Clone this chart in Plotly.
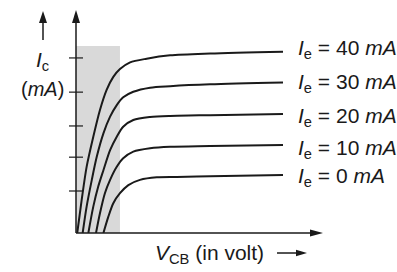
import plotly.graph_objects as go

# ---- data ----
ie_labels = ["40", "30", "20", "10", "0"]
v_40 = [0.05, 0.23, 0.43, 0.70, 0.97, 1.24, 1.51, 1.78, 2.19, 2.86, 3.81, 5.43, 8.38]
i_40 = [0.0, 8.9, 17.8, 25.9, 33.1, 38.5, 42.0, 44.1, 45.9, 46.9, 47.8, 48.3, 48.8]
v_30 = [0.27, 0.43, 0.64, 0.84, 1.11, 1.38, 1.65, 1.91, 2.32, 3.00, 3.81, 5.43, 8.38]
i_30 = [0.0, 7.1, 14.3, 20.5, 26.8, 31.3, 34.4, 36.5, 38.0, 39.1, 39.5, 40.0, 40.5]
v_20 = [0.50, 0.70, 0.90, 1.11, 1.38, 1.65, 1.91, 2.32, 3.00, 3.81, 5.43, 8.38]
i_20 = [0.0, 7.1, 12.5, 16.9, 22.3, 25.9, 28.6, 30.4, 31.2, 31.5, 31.7, 32.0]
v_10 = [0.81, 0.97, 1.17, 1.38, 1.65, 1.91, 2.32, 3.00, 3.81, 5.43, 8.38]
i_10 = [0.0, 5.3, 10.7, 14.3, 17.8, 20.1, 21.9, 22.8, 23.2, 23.4, 23.7]
v_0 = [1.11, 1.31, 1.51, 1.78, 2.12, 2.59, 3.27, 4.08, 5.43, 8.38]
i_0 = [0.0, 4.4, 8.0, 10.7, 12.9, 14.3, 15.0, 15.1, 15.3, 15.6]
label_y = [49.5, 40.4, 31.2, 22.6, 15.1]          # label positions (mA)
tick_vals = [11.3, 20.4, 28.8, 37.9, 47.1]        # unlabeled y ticks (mA)
region_v = [0.0, 1.78]                            # shaded region (V)
region_i = [0.0, 50.3]                            # shaded region (mA)
x_range = [0, 10]
y_range = [0, 60]

curves = [(v_40, i_40), (v_30, i_30), (v_20, i_20), (v_10, i_10), (v_0, i_0)]

INK = "#1a1a1a"
FONT = "Liberation Sans"

fig = go.Figure()

for v, i in curves:
    fig.add_trace(go.Scatter(x=v, y=i, mode="lines",
                             line=dict(color=INK, width=2.0, shape="spline", smoothing=0.8),
                             hoverinfo="skip", showlegend=False))

# tick marks crossing the y axis
fig.add_trace(go.Scatter(x=[0] * len(tick_vals), y=tick_vals, mode="markers",
                         marker=dict(symbol="line-ew", size=10, line=dict(color=INK, width=1.2)),
                         cliponaxis=False, hoverinfo="skip", showlegend=False))

shapes = [
    dict(type="rect", xref="x", yref="y", x0=region_v[0], x1=region_v[1],
         y0=region_i[0], y1=region_i[1], fillcolor="#d9d9d9", line=dict(width=0), layer="below"),
    # axes
    dict(type="line", xref="paper", yref="paper", x0=0, y0=0, x1=0, y1=0.95,
         line=dict(color=INK, width=1.5)),
    dict(type="line", xref="paper", yref="paper", x0=0, y0=0, x1=0.96, y1=0,
         line=dict(color=INK, width=1.5)),
    dict(type="path", xref="paper", yref="paper", xsizemode="pixel", ysizemode="pixel",
         xanchor=0, yanchor=1.0, path="M0,0 L-4,-13 L4,-13 Z", fillcolor=INK, line=dict(width=0)),
    dict(type="path", xref="paper", yref="paper", xsizemode="pixel", ysizemode="pixel",
         xanchor=1.0, yanchor=0, path="M0,0 L-13,-3.5 L-13,3.5 Z", fillcolor=INK, line=dict(width=0)),
    # arrow above I_c
    dict(type="line", xref="paper", yref="paper", x0=-0.1336, y0=0.8655, x1=-0.1336, y1=0.95,
         line=dict(color=INK, width=1.5)),
    dict(type="path", xref="paper", yref="paper", xsizemode="pixel", ysizemode="pixel",
         xanchor=-0.1336, yanchor=0.9955, path="M0,0 L-4,-12 L4,-12 Z", fillcolor=INK, line=dict(width=0)),
    # arrow after x label
    dict(type="line", xref="paper", yref="paper", x0=0.8138, y0=-0.0897, x1=0.91, y1=-0.0897,
         line=dict(color=INK, width=1.5)),
    dict(type="path", xref="paper", yref="paper", xsizemode="pixel", ysizemode="pixel",
         xanchor=0.9352, yanchor=-0.0897, path="M0,0 L-11,-3.2 L-11,3.2 Z", fillcolor=INK, line=dict(width=0)),
]

annotations = []
for lab, yv in zip(ie_labels, label_y):
    annotations.append(dict(xref="paper", yref="y", x=0.891, y=yv, xanchor="left", yanchor="middle",
                            text="<i>I</i><sub>e</sub> = %s <i>mA</i>" % lab, showarrow=False,
                            font=dict(family=FONT, size=21, color=INK)))
annotations.append(dict(xref="paper", yref="paper", x=-0.136, y=(233 - 61) / 223, xanchor="center",
                        yanchor="middle", text="<i>I</i><sub>c</sub>", showarrow=False,
                        font=dict(family=FONT, size=21, color=INK)))
annotations.append(dict(xref="paper", yref="paper", x=-0.136, y=(233 - 89) / 223, xanchor="center",
                        yanchor="middle", text="(<i>mA</i>)", showarrow=False,
                        font=dict(family=FONT, size=20, color=INK)))
annotations.append(dict(xref="paper", yref="paper", x=(153 - 76) / 247, y=(233 - 254) / 223,
                        xanchor="left", yanchor="middle", text="<i>V</i><sub>CB</sub> (in volt)",
                        showarrow=False, font=dict(family=FONT, size=21, color=INK)))

fig.update_layout(
    width=397, height=272,
    margin=dict(l=76, r=74, t=10, b=39),
    paper_bgcolor="white", plot_bgcolor="white",
    xaxis=dict(range=x_range, visible=False, fixedrange=True),
    yaxis=dict(range=y_range, visible=False, fixedrange=True),
    shapes=shapes, annotations=annotations, showlegend=False,
)

fig.write_html("out.html", config={"displayModeBar": False})
